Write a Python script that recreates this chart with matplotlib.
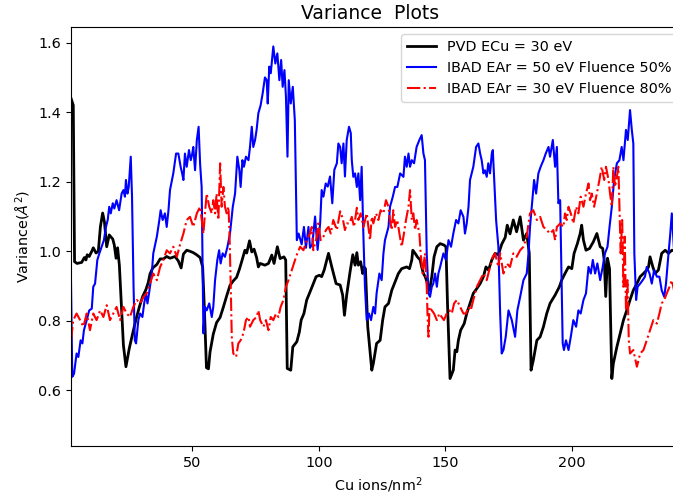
import numpy as np
import matplotlib
matplotlib.use("Agg")
import matplotlib.pyplot as plt

plt.rcParams['font.size'] = 10.4

# PVD ECu = 30 eV
pvd_x = [2.1, 3.0, 3.5, 4.5, 6.3, 7.4, 8.0, 8.5, 9.3, 10.3, 10.9, 12.0, 12.9, 13.7, 14.6, 15.3, 16.2, 17.2, 18.0, 18.6,
         19.2, 19.9, 20.5, 21.2, 21.9, 22.8, 23.8, 25.1, 26.5, 27.8, 29.1, 30.4, 31.7, 32.6, 33.3, 34.4, 36.0, 37.3, 38.6, 39.9,
         41.2, 43.2, 44.5, 45.6, 46.5, 47.8, 49.1, 50.4, 51.7, 53.1, 54.1, 54.8, 55.6, 56.4, 57.0, 58.3, 59.6, 61.0, 62.3, 63.6,
         64.9, 66.2, 67.5, 68.6, 69.5, 70.8, 71.5, 72.6, 73.5, 74.4, 75.4, 76.1, 76.8, 78.7, 80.1, 81.4, 82.3, 83.6, 84.7, 86.2,
         86.9, 87.5, 88.9, 89.7, 91.3, 92.3, 93.0, 94.1, 95.2, 96.5, 97.8, 98.9, 100.2, 101.1, 102.1, 103.8, 105.1, 106.8, 108.4, 109.4,
         110.1, 111.0, 112.3, 113.4, 114.3, 115.0, 115.6, 116.5, 117.3, 117.8, 118.4, 119.3, 120.9, 121.5, 122.8, 124.2, 125.2, 126.1, 127.5, 128.8,
         130.1, 131.4, 132.7, 134.7, 135.8, 136.7, 137.1, 138.0, 138.9, 140.0, 140.6, 141.3, 142.0, 142.9, 143.7, 144.6, 145.5, 146.6, 147.9, 149.4,
         150.2, 150.8, 151.8, 153.1, 153.8, 154.5, 155.1, 156.0, 157.4, 158.4, 159.7, 161.0, 162.4, 163.7, 165.0, 166.0, 167.0, 168.3, 169.6, 170.9,
         172.2, 173.6, 174.4, 175.5, 176.8, 178.1, 179.5, 180.8, 182.1, 183.1, 183.8, 184.7, 186.1, 187.4, 188.7, 190.0, 191.3, 193.3, 195.0, 195.9,
         197.2, 198.6, 199.9, 200.8, 202.1, 203.2, 203.8, 204.5, 205.5, 206.9, 208.4, 209.8, 211.1, 212.1, 212.7, 213.3, 214.0, 214.8, 215.7, 216.3,
         217.7, 219.0, 220.3, 221.6, 222.9, 224.2, 225.6, 226.9, 228.2, 229.5, 230.2, 230.8, 231.9, 232.8, 234.1, 235.4, 236.8, 238.1, 239.4, 241.0,
         243.0, 245.0]
pvd_y = [1.44, 1.42, 0.97, 0.965, 0.968, 0.982, 0.975, 0.99, 0.985, 1.0, 1.01, 0.995, 1.0, 1.07, 1.11, 1.085, 1.013, 1.047, 1.04, 1.035,
         1.018, 0.98, 1.01, 0.96, 0.86, 0.73, 0.668, 0.72, 0.765, 0.805, 0.84, 0.87, 0.89, 0.91, 0.935, 0.952, 0.962, 0.978, 0.978, 0.985,
         0.98, 0.985, 0.972, 0.952, 0.992, 1.003, 1.0, 0.996, 0.99, 0.982, 0.955, 0.83, 0.665, 0.662, 0.71, 0.762, 0.795, 0.81, 0.84, 0.872,
         0.902, 0.915, 0.925, 0.948, 0.97, 1.003, 0.995, 1.03, 0.998, 1.006, 0.982, 0.955, 0.965, 0.96, 0.965, 0.989, 0.965, 1.013, 0.979, 0.984,
         0.975, 0.663, 0.658, 0.725, 0.74, 0.768, 0.802, 0.821, 0.86, 0.883, 0.907, 0.927, 0.931, 0.927, 0.946, 0.994, 0.955, 0.907, 0.903, 0.874,
         0.816, 0.875, 0.94, 0.99, 0.96, 0.996, 0.96, 0.97, 0.936, 0.955, 0.95, 0.783, 0.658, 0.677, 0.735, 0.744, 0.802, 0.84, 0.85, 0.888,
         0.912, 0.936, 0.95, 0.955, 0.95, 0.975, 1.003, 0.994, 0.984, 0.975, 0.955, 0.936, 0.927, 0.907, 0.888, 0.927, 0.984, 1.013, 1.022, 1.018,
         1.013, 0.85, 0.634, 0.658, 0.716, 0.711, 0.744, 0.773, 0.792, 0.821, 0.85, 0.879, 0.893, 0.907, 0.927, 0.955, 0.946, 0.975, 0.994, 0.99,
         1.02, 1.04, 1.075, 1.05, 1.09, 1.056, 1.099, 1.032, 1.051, 0.994, 0.658, 0.687, 0.744, 0.754, 0.783, 0.821, 0.85, 0.874, 0.898, 0.917,
         0.936, 0.955, 0.95, 0.994, 1.022, 1.051, 1.075, 1.032, 1.003, 1.008, 1.027, 1.051, 1.013, 1.008, 0.975, 0.87, 0.98, 0.95, 0.634, 0.677,
         0.725, 0.764, 0.802, 0.83, 0.86, 0.888, 0.907, 0.927, 0.936, 0.946, 0.955, 0.984, 0.955, 0.936, 0.946, 0.994, 1.003, 0.994, 1.003, 1.0,
         0.995, 0.99]

# IBAD EAr = 50 eV, fluence 50%
ibad50_x = [2.1, 2.6, 3.3, 4.3, 5.0, 5.9, 6.6, 7.2, 8.3, 9.3, 10.3, 10.9, 11.6, 12.5, 13.3, 14.2, 15.1, 15.9, 16.6, 17.2,
            17.8, 18.6, 19.2, 20.1, 21.1, 22.1, 22.8, 23.4, 23.8, 24.4, 24.9, 25.7, 26.2, 26.8, 27.3, 27.8, 28.7, 29.4, 30.3, 31.0,
            31.7, 32.3, 33.1, 34.0, 34.6, 36.0, 37.0, 37.5, 38.3, 39.2, 39.9, 40.6, 41.2, 42.5, 43.6, 44.5, 45.4, 46.0, 46.5, 47.1,
            47.8, 48.7, 49.4, 50.0, 50.4, 51.1, 51.8, 52.5, 53.1, 53.7, 54.4, 55.0, 55.7, 56.7, 57.7, 58.3, 59.0, 59.9, 60.6, 61.2,
            62.0, 62.9, 63.9, 64.9, 66.0, 66.9, 67.8, 68.6, 69.1, 69.8, 70.4, 71.2, 72.2, 72.8, 73.5, 74.1, 74.8, 75.4, 76.1, 77.0,
            77.8, 78.7, 79.4, 79.8, 80.4, 81.0, 82.0, 82.8, 83.6, 84.4, 85.1, 85.7, 86.4, 87.0, 87.6, 88.1, 88.9, 89.7, 90.5, 91.3,
            92.0, 93.2, 94.1, 94.9, 95.9, 96.5, 97.4, 98.5, 99.5, 100.5, 101.1, 101.8, 102.7, 103.5, 104.4, 105.3, 106.1, 107.1, 107.7, 108.4,
            109.0, 109.7, 110.3, 111.0, 111.9, 112.6, 113.0, 113.6, 114.3, 115.0, 115.6, 116.3, 116.9, 117.6, 118.2, 118.9, 119.8, 120.6, 121.5, 122.2,
            122.8, 123.9, 124.8, 125.5, 126.1, 127.5, 128.1, 129.2, 130.1, 131.0, 132.1, 133.4, 134.0, 134.7, 135.4, 136.0, 136.7, 137.6, 138.6, 139.7,
            140.6, 141.3, 141.9, 142.6, 143.3, 143.9, 144.6, 145.2, 145.9, 146.6, 147.2, 147.9, 149.2, 150.2, 151.2, 152.2, 153.1, 154.2, 155.1, 156.0,
            157.1, 157.7, 158.4, 159.1, 159.7, 161.0, 162.1, 163.0, 163.7, 164.3, 165.0, 165.6, 166.3, 166.9, 167.6, 168.3, 168.7, 169.2, 170.0, 170.9,
            171.6, 172.2, 172.9, 173.8, 174.9, 176.2, 177.5, 178.4, 179.5, 180.8, 182.1, 182.8, 183.4, 184.3, 185.0, 185.8, 186.7, 187.6, 188.7, 189.6,
            190.7, 191.3, 192.4, 193.3, 194.0, 194.6, 195.3, 196.3, 196.8, 197.6, 198.6, 199.5, 200.5, 201.6, 202.5, 203.4, 204.5, 205.5, 206.5, 207.4,
            208.2, 209.1, 210.0, 211.1, 212.1, 213.0, 214.0, 214.8, 215.7, 216.6, 217.7, 218.7, 219.6, 220.3, 221.3, 222.0, 222.9, 223.6, 224.2, 224.6,
            225.3, 225.9, 226.9, 227.9, 228.8, 229.5, 230.6, 231.5, 232.4, 233.5, 234.5, 235.4, 236.4, 237.1, 238.1, 238.7, 239.4, 240.3, 241.2, 242.2,
            243.0, 245.0]
ibad50_y = [0.912, 0.639, 0.648, 0.706, 0.696, 0.744, 0.735, 0.773, 0.802, 0.83, 0.835, 0.898, 0.907, 0.975, 0.994, 1.013, 1.032, 1.07, 1.09, 1.128,
            1.109, 1.138, 1.123, 1.147, 1.118, 1.166, 1.176, 1.157, 1.205, 1.166, 1.185, 1.272, 1.157, 0.9, 0.744, 0.735, 0.802, 0.821, 0.811, 0.85,
            0.879, 0.85, 0.888, 0.936, 0.994, 1.042, 1.09, 1.118, 1.09, 1.109, 1.07, 1.118, 1.176, 1.224, 1.281, 1.281, 1.243, 1.224, 1.205, 1.281,
            1.243, 1.291, 1.262, 1.281, 1.3, 1.233, 1.32, 1.358, 1.25, 1.185, 0.764, 0.84, 0.83, 0.85, 0.811, 0.84, 0.917, 0.975, 1.003, 0.965,
            0.994, 0.984, 1.013, 1.051, 1.128, 1.166, 1.272, 1.233, 1.185, 1.262, 1.243, 1.272, 1.262, 1.3, 1.358, 1.3, 1.32, 1.349, 1.397, 1.42,
            1.454, 1.5, 1.492, 1.425, 1.531, 1.512, 1.589, 1.54, 1.569, 1.492, 1.55, 1.473, 1.521, 1.444, 1.272, 1.492, 1.425, 1.473, 1.377, 1.032,
            1.051, 1.02, 1.07, 1.01, 1.07, 1.01, 1.02, 1.1, 1.004, 1.08, 1.176, 1.157, 1.195, 1.186, 1.215, 1.138, 1.234, 1.253, 1.31, 1.3,
            1.253, 1.31, 1.215, 1.32, 1.358, 1.34, 1.262, 1.214, 1.224, 1.185, 1.224, 1.147, 1.243, 1.042, 0.898, 0.802, 0.821, 0.802, 0.84, 0.821,
            0.879, 0.936, 0.917, 0.994, 1.032, 1.07, 1.128, 1.157, 1.185, 1.185, 1.224, 1.214, 1.272, 1.243, 1.281, 1.243, 1.262, 1.253, 1.3, 1.32,
            1.334, 1.281, 1.262, 0.994, 0.879, 0.869, 0.898, 0.907, 0.936, 0.898, 0.936, 0.955, 0.994, 0.975, 1.032, 1.013, 1.051, 1.09, 1.08, 1.118,
            1.099, 1.051, 1.08, 1.128, 1.205, 1.243, 1.3, 1.31, 1.281, 1.262, 1.224, 1.233, 1.214, 1.253, 1.224, 1.281, 1.291, 1.214, 1.09, 1.013,
            0.821, 0.706, 0.716, 0.754, 0.83, 0.802, 0.754, 0.83, 0.869, 0.917, 0.936, 0.994, 1.07, 1.147, 1.205, 1.166, 1.224, 1.243, 1.262, 1.281,
            1.3, 1.272, 1.32, 1.243, 1.3, 1.138, 1.147, 0.735, 0.716, 0.744, 0.716, 0.754, 0.802, 0.783, 0.83, 0.821, 0.86, 0.879, 0.955, 0.936,
            0.975, 0.936, 0.965, 0.917, 0.955, 0.994, 1.013, 1.07, 1.128, 1.205, 1.253, 1.262, 1.3, 1.262, 1.349, 1.32, 1.406, 1.349, 1.31, 0.994,
            0.86, 0.898, 0.907, 0.917, 0.927, 0.955, 0.936, 0.907, 0.946, 0.927, 0.927, 0.888, 0.869, 0.907, 0.994, 1.042, 1.109, 1.0, 0.96, 0.97,
            0.95, 0.96]

# IBAD EAr = 30 eV, fluence 80%
ibad30_x = [2.1, 3.0, 4.3, 5.7, 7.0, 8.3, 9.6, 10.9, 12.2, 13.6, 14.9, 16.2, 17.5, 18.8, 20.1, 21.5, 22.8, 24.1, 25.4, 26.7,
            28.1, 29.4, 30.7, 32.0, 33.3, 34.6, 36.0, 37.3, 38.6, 39.9, 41.2, 42.5, 43.9, 45.2, 46.5, 47.8, 49.1, 50.4, 51.8, 53.1,
            54.4, 55.0, 55.7, 56.7, 57.7, 58.3, 59.0, 59.6, 60.3, 61.0, 61.6, 62.3, 62.9, 63.6, 64.3, 64.7, 65.2, 65.6, 66.2, 67.3,
            68.2, 69.1, 70.2, 71.2, 72.2, 72.8, 74.1, 75.4, 76.1, 76.8, 78.1, 79.1, 80.1, 81.0, 82.0, 83.1, 84.0, 84.9, 86.0, 87.0,
            88.0, 89.3, 90.6, 91.5, 92.6, 93.9, 95.2, 96.5, 97.2, 97.8, 99.2, 99.8, 100.7, 101.8, 102.8, 103.8, 104.7, 105.7, 107.1, 108.4,
            109.4, 110.3, 111.0, 112.1, 113.0, 113.9, 115.0, 115.6, 116.5, 117.6, 118.9, 120.2, 120.9, 121.5, 122.6, 123.5, 124.4, 125.5, 126.5, 127.5,
            128.1, 128.8, 129.4, 130.1, 131.0, 131.8, 132.7, 133.6, 134.4, 135.4, 136.0, 136.7, 137.3, 138.0, 138.6, 139.7, 140.2, 141.0, 141.9, 142.6,
            142.9, 143.3, 143.7, 144.6, 145.5, 146.6, 147.6, 148.5, 149.4, 150.5, 151.6, 152.5, 153.4, 154.5, 155.8, 157.1, 158.1, 159.1, 160.0, 161.0,
            162.4, 163.7, 165.0, 166.3, 167.6, 168.7, 169.6, 170.9, 171.6, 172.9, 174.2, 175.5, 176.8, 178.1, 179.5, 180.8, 182.1, 182.8, 183.4, 184.7,
            186.1, 187.4, 188.7, 190.0, 191.3, 192.6, 193.3, 194.0, 195.3, 196.6, 197.2, 197.9, 198.6, 199.5, 200.5, 201.6, 202.5, 203.4, 204.5, 205.5,
            206.5, 207.1, 207.8, 208.7, 209.8, 210.8, 211.7, 212.7, 213.4, 214.4, 215.0, 215.7, 216.3, 217.0, 217.7, 218.3, 218.7, 219.2, 219.8, 220.3,
            220.8, 221.3, 221.9, 222.4, 222.9, 224.2, 225.6, 226.9, 228.2, 229.5, 230.8, 232.1, 233.5, 234.5, 235.4, 236.4, 237.4, 238.5, 239.4, 240.5,
            241.5, 243.0, 245.0]
ibad30_y = [0.744, 0.802, 0.821, 0.802, 0.783, 0.821, 0.773, 0.821, 0.802, 0.83, 0.811, 0.845, 0.802, 0.821, 0.84, 0.802, 0.84, 0.821, 0.811, 0.84,
            0.86, 0.85, 0.869, 0.879, 0.907, 0.936, 0.917, 0.955, 0.975, 1.003, 0.994, 1.013, 0.984, 1.02, 1.051, 1.09, 1.099, 1.07, 1.109, 1.128,
            1.051, 1.109, 1.166, 1.128, 1.109, 1.147, 1.109, 1.166, 1.09, 1.253, 1.128, 1.185, 1.128, 1.109, 1.128, 1.051, 0.898, 0.754, 0.706, 0.696,
            0.735, 0.744, 0.764, 0.802, 0.811, 0.783, 0.802, 0.811, 0.83, 0.802, 0.783, 0.802, 0.773, 0.811, 0.802, 0.821, 0.811, 0.84, 0.86, 0.898,
            0.917, 0.946, 0.975, 0.994, 1.013, 1.003, 1.032, 1.051, 1.07, 1.003, 1.042, 1.08, 1.032, 1.042, 1.061, 1.07, 1.051, 1.09, 1.061, 1.115,
            1.095, 1.061, 1.08, 1.08, 1.099, 1.07, 1.125, 1.09, 1.109, 1.07, 1.109, 1.032, 1.099, 1.08, 1.109, 1.09, 1.118, 1.109, 1.147, 1.128,
            1.09, 1.061, 1.118, 1.07, 1.09, 1.051, 1.013, 1.051, 1.09, 1.128, 1.176, 1.09, 1.109, 1.061, 1.09, 1.051, 0.994, 0.936, 0.994, 0.898,
            0.821, 0.754, 0.84, 0.83, 0.821, 0.802, 0.821, 0.811, 0.802, 0.821, 0.83, 0.821, 0.85, 0.86, 0.84, 0.821, 0.821, 0.84, 0.83, 0.86,
            0.898, 0.917, 0.936, 0.917, 0.955, 0.984, 0.994, 0.955, 0.994, 0.936, 0.965, 0.955, 0.994, 0.984, 1.003, 1.013, 1.042, 1.08, 1.109, 1.118,
            1.09, 1.099, 1.07, 1.061, 1.051, 1.061, 1.032, 1.07, 1.08, 1.07, 1.109, 1.09, 1.128, 1.109, 1.08, 1.128, 1.109, 1.157, 1.128, 1.166,
            1.195, 1.147, 1.166, 1.128, 1.166, 1.205, 1.243, 1.205, 1.243, 1.205, 1.166, 1.128, 1.243, 1.185, 1.214, 1.243, 1.128, 0.994, 1.09, 0.898,
            1.042, 0.83, 0.917, 0.744, 0.706, 0.716, 0.668, 0.706, 0.716, 0.744, 0.773, 0.802, 0.792, 0.821, 0.85, 0.86, 0.879, 0.898, 0.917, 0.88,
            0.87, 0.89, 0.9]

fig = plt.figure(figsize=(6.73, 4.96), dpi=100)
# axes runs a little past the right edge, like the original crop
ax = fig.add_axes([0.1055, 0.1008, 0.9123, 0.8448])

ax.plot(pvd_x, pvd_y, color='black', lw=2, label='PVD ECu = 30 eV')
ax.plot(ibad50_x, ibad50_y, color='blue', lw=1.5, label='IBAD EAr = 50 eV Fluence 50%')
ax.plot(ibad30_x, ibad30_y, color='red', lw=1.5, ls='-.', label='IBAD EAr = 30 eV Fluence 80%')

ax.set_xlim(2.1, 244.6)
ax.set_ylim(0.44, 1.645)
ax.set_xticks([50, 100, 150, 200])
ax.set_yticks([0.6, 0.8, 1.0, 1.2, 1.4, 1.6])

ax.set_title('Variance  Plots', fontsize=13.5, x=0.487)
ax.set_xlabel(r'Cu ions/nm$^2$')
ax.set_ylabel(r'Variance($\AA^2$)')
ax.legend(loc='upper right')

fig.savefig('out.png', dpi=100)
